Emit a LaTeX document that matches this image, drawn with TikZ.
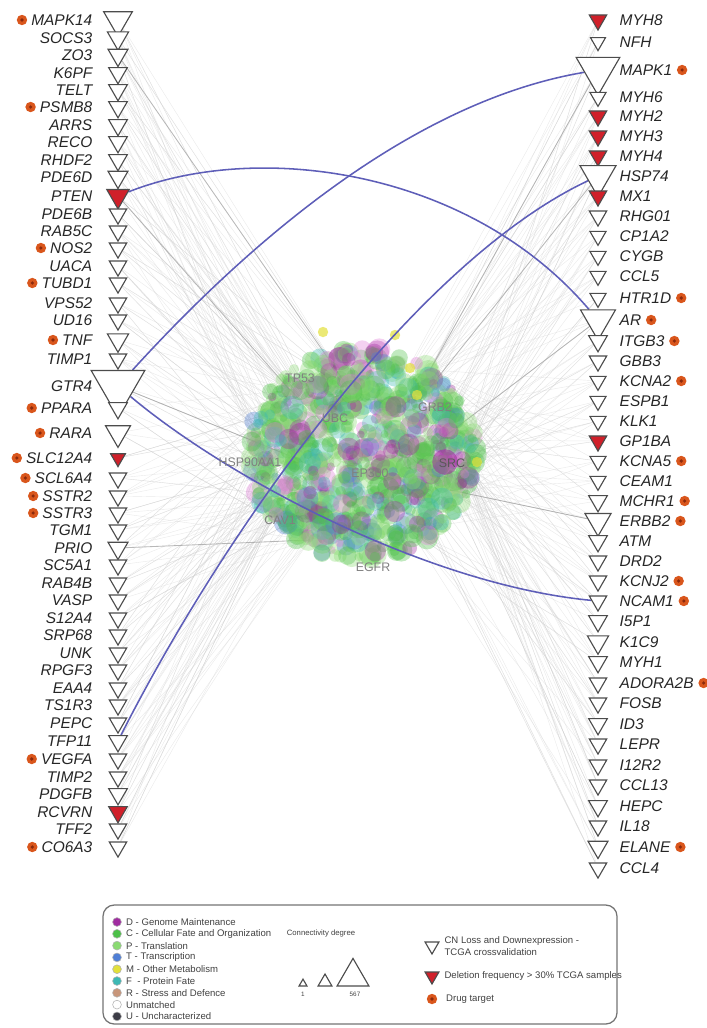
\documentclass[tikz,border=0pt]{standalone}
\usepackage{fontspec}
\setmainfont{Liberation Sans}
\usetikzlibrary{shapes.geometric,positioning,backgrounds}

\definecolor{delred}{HTML}{D0202A}
\definecolor{drugorg}{HTML}{D9561C}
\definecolor{drugdark}{HTML}{8C2A0C}
\definecolor{linkblue}{HTML}{5E5EB8}
\definecolor{cgreen}{HTML}{4CC048}
\definecolor{clgreen}{HTML}{8ADA72}
\definecolor{cpurple}{HTML}{A02CA0}
\definecolor{cpink}{HTML}{E07AD8}
\definecolor{cblue}{HTML}{4F7FD6}
\definecolor{cteal}{HTML}{3DB8B4}
\definecolor{cyellow}{HTML}{E2E03A}
\definecolor{cbrown}{HTML}{C8967A}
\definecolor{cdark}{HTML}{3C3C46}

\pgfmathdeclarerandomlist{cloudcol}{{cgreen}{cgreen}{cgreen}{cgreen}{cgreen}{cgreen}{clgreen}{clgreen}{clgreen}{clgreen}{clgreen}{cpurple}{cpurple}{cpink}{cpink}{cblue}{cteal}{cteal}}
\pgfmathdeclarerandomlist{lhub}{{a1}{a2}{a3}{a4}{a5}{a6}{a7}{a8}}
\pgfmathdeclarerandomlist{rhub}{{b1}{b2}{b3}{b4}{b5}{b6}{b7}{b8}}

% y, name, width, fill, drug target
\newcommand\lgene[5]{%
  \pgfmathsetmacro{\trisz}{#3*0.036}%
  \node[tri,fill=#4,minimum size=\trisz cm] (l#2) at (118,#1) {};%
  \node[gl,anchor=east] (lt#2) at (94,#1) {#2};%
  \ifnum#5=1 \node[drug,left=1.5pt of lt#2] (ld#2) {};\fi}
\newcommand\rgene[5]{%
  \pgfmathsetmacro{\trisz}{#3*0.036}%
  \node[tri,fill=#4,minimum size=\trisz cm] (r#2) at (598,#1) {};%
  \node[gl,anchor=west] (rt#2) at (618,#1) {#2};%
  \ifnum#5=1 \node[drug,right=2pt of rt#2] (rd#2) {};\fi}

\begin{document}
\begin{tikzpicture}[x=0.025cm,y=-0.025cm,
  tri/.style={regular polygon,regular polygon sides=3,shape border rotate=180,draw=black!70,line width=0.8pt,inner sep=0pt},
  gl/.style={font=\fontsize{11}{13}\selectfont\itshape,text=black!85,inner sep=1pt},
  drug/.style={circle,fill=drugorg,inner sep=0pt,minimum size=0.26cm,path picture={\fill[drugdark] (path picture bounding box.center) circle (0.045cm);}},
  hub/.style={font=\fontsize{8.8}{10}\selectfont,text=black!50},
  lnk/.style={draw=black!18,line width=0.3pt,opacity=0.45},
  lnkd/.style={draw=black!35,line width=0.6pt,opacity=0.8},
  bluelink/.style={draw=linkblue,line width=1.1pt},
  legdot/.style={circle,draw=black!30,inner sep=0pt,minimum size=0.22cm},
  leg/.style={font=\fontsize{6.8}{8}\selectfont,text=black!75,anchor=west,inner sep=0pt}]
\useasboundingbox (0,0) rectangle (706,1028);
\pgfmathsetseed{11}
\coordinate (a1) at (290,390); \coordinate (a2) at (320,420); \coordinate (a3) at (300,460); \coordinate (a4) at (340,450);
\coordinate (a5) at (280,500); \coordinate (a6) at (330,500); \coordinate (a7) at (350,390); \coordinate (a8) at (310,540);
\coordinate (b1) at (420,400); \coordinate (b2) at (440,440); \coordinate (b3) at (400,470); \coordinate (b4) at (450,490);
\coordinate (b5) at (380,420); \coordinate (b6) at (410,530); \coordinate (b7) at (430,370); \coordinate (b8) at (460,460);
\lgene{20}{MAPK14}{23}{white}{1}
\lgene{38}{SOCS3}{17}{white}{0}
\lgene{55}{ZO3}{16}{white}{0}
\lgene{73}{K6PF}{15}{white}{0}
\lgene{90}{TELT}{15}{white}{0}
\lgene{107}{PSMB8}{15}{white}{1}
\lgene{125}{ARRS}{15}{white}{0}
\lgene{142}{RECO}{15}{white}{0}
\lgene{160}{RHDF2}{15}{white}{0}
\lgene{177}{PDE6D}{16}{white}{0}
\lgene{196}{PTEN}{18}{delred}{0}
\lgene{214}{PDE6B}{14}{white}{0}
\lgene{231}{RAB5C}{14}{white}{0}
\lgene{248}{NOS2}{14}{white}{1}
\lgene{266}{UACA}{14}{white}{0}
\lgene{283}{TUBD1}{14}{white}{1}
\lgene{303}{VPS52}{14}{white}{0}
\lgene{320}{UD16}{14}{white}{0}
\lgene{340}{TNF}{17}{white}{1}
\lgene{359}{TIMP1}{14}{white}{0}
\lgene{386}{GTR4}{43}{white}{0}
\lgene{408}{PPARA}{15}{white}{1}
\lgene{433}{RARA}{20}{white}{1}
\lgene{458}{SLC12A4}{12}{delred}{1}
\lgene{478}{SCL6A4}{14}{white}{1}
\lgene{496}{SSTR2}{14}{white}{1}
\lgene{513}{SSTR3}{14}{white}{1}
\lgene{530}{TGM1}{14}{white}{0}
\lgene{548}{PRIO}{16}{white}{0}
\lgene{565}{SC5A1}{14}{white}{0}
\lgene{583}{RAB4B}{14}{white}{0}
\lgene{600}{VASP}{14}{white}{0}
\lgene{618}{S12A4}{14}{white}{0}
\lgene{635}{SRP68}{14}{white}{0}
\lgene{653}{UNK}{14}{white}{0}
\lgene{670}{RPGF3}{14}{white}{0}
\lgene{688}{EAA4}{14}{white}{0}
\lgene{705}{TS1R3}{14}{white}{0}
\lgene{723}{PEPC}{14}{white}{0}
\lgene{741}{TFP11}{15}{white}{0}
\lgene{759}{VEGFA}{14}{white}{1}
\lgene{777}{TIMP2}{14}{white}{0}
\lgene{794}{PDGFB}{15}{white}{0}
\lgene{812}{RCVRN}{15}{delred}{0}
\lgene{829}{TFF2}{14}{white}{0}
\lgene{847}{CO6A3}{14}{white}{1}
\rgene{20}{MYH8}{14}{delred}{0}
\rgene{42}{NFH}{12}{white}{0}
\rgene{70}{MAPK1}{35}{white}{1}
\rgene{97}{MYH6}{13}{white}{0}
\rgene{116}{MYH2}{14}{delred}{0}
\rgene{136}{MYH3}{14}{delred}{0}
\rgene{156}{MYH4}{14}{delred}{0}
\rgene{176}{HSP74}{29}{white}{0}
\rgene{196}{MX1}{14}{delred}{0}
\rgene{216}{RHG01}{14}{white}{0}
\rgene{236}{CP1A2}{13}{white}{0}
\rgene{256}{CYGB}{13}{white}{0}
\rgene{276}{CCL5}{13}{white}{0}
\rgene{298}{HTR1D}{13}{white}{1}
\rgene{320}{AR}{28}{white}{1}
\rgene{341}{ITGB3}{15}{white}{1}
\rgene{361}{GBB3}{14}{white}{0}
\rgene{381}{KCNA2}{13}{white}{1}
\rgene{401}{ESPB1}{13}{white}{0}
\rgene{421}{KLK1}{13}{white}{0}
\rgene{441}{GP1BA}{14}{delred}{0}
\rgene{461}{KCNA5}{13}{white}{1}
\rgene{481}{CEAM1}{13}{white}{0}
\rgene{501}{MCHR1}{15}{white}{1}
\rgene{521}{ERBB2}{21}{white}{1}
\rgene{541}{ATM}{15}{white}{0}
\rgene{561}{DRD2}{14}{white}{0}
\rgene{581}{KCNJ2}{14}{white}{1}
\rgene{601}{NCAM1}{14}{white}{1}
\rgene{621}{I5P1}{15}{white}{0}
\rgene{642}{K1C9}{17}{white}{0}
\rgene{662}{MYH1}{15}{white}{0}
\rgene{683}{ADORA2B}{14}{white}{1}
\rgene{703}{FOSB}{14}{white}{0}
\rgene{724}{ID3}{15}{white}{0}
\rgene{744}{LEPR}{14}{white}{0}
\rgene{765}{I12R2}{14}{white}{0}
\rgene{785}{CCL13}{14}{white}{0}
\rgene{806}{HEPC}{15}{white}{0}
\rgene{826}{IL18}{14}{white}{0}
\rgene{847}{ELANE}{16}{white}{1}
\rgene{868}{CCL4}{14}{white}{0}
\begin{pgfonlayer}{background}
\foreach \g in {MAPK14,SOCS3,ZO3,K6PF,TELT,PSMB8,ARRS,RECO,RHDF2,PDE6D,PTEN,PDE6B,RAB5C,NOS2,UACA,TUBD1,VPS52,UD16,TNF,TIMP1,GTR4,PPARA,RARA,
  SLC12A4,SCL6A4,SSTR2,SSTR3,TGM1,PRIO,SC5A1,RAB4B,VASP,S12A4,SRP68,UNK,RPGF3,EAA4,TS1R3,PEPC,TFP11,VEGFA,TIMP2,PDGFB,RCVRN,TFF2,CO6A3}
  {\foreach \k in {1,...,5}{\pgfmathrandomitem{\h}{lhub}\draw[lnk] (l\g) -- (\h);}}
\foreach \g in {MYH8,NFH,MAPK1,MYH6,MYH2,MYH3,MYH4,HSP74,MX1,RHG01,CP1A2,CYGB,CCL5,HTR1D,AR,ITGB3,GBB3,KCNA2,ESPB1,KLK1,GP1BA,KCNA5,CEAM1,
  MCHR1,ERBB2,ATM,DRD2,KCNJ2,NCAM1,I5P1,K1C9,MYH1,ADORA2B,FOSB,ID3,LEPR,I12R2,CCL13,HEPC,IL18,ELANE,CCL4}
  {\foreach \k in {1,...,5}{\pgfmathrandomitem{\h}{rhub}\draw[lnk] (r\g) -- (\h);}}
\draw[lnkd] (lZO3) -- (a7);
\draw[lnkd] (lPTEN) -- (a1);
\draw[lnkd] (lGTR4) -- (a3);
\draw[lnkd] (lPRIO) -- (a8);
\draw[lnkd] (rMAPK1) -- (b7);
\draw[lnkd] (rHSP74) -- (b1);
\draw[lnkd] (rAR) -- (b2);
\draw[lnkd] (rERBB2) -- (b4);
\foreach \k in {1,...,900}{
  \pgfmathsetmacro{\ang}{360*rnd}
  \pgfmathsetmacro{\rad}{sqrt(rnd)}
  \pgfmathsetmacro{\cx}{362+114*\rad*cos(\ang)}
  \pgfmathsetmacro{\cy}{454+106*\rad*sin(\ang)}
  \pgfmathsetmacro{\cr}{(4+8*rnd)*0.025}
  \pgfmathrandomitem{\cc}{cloudcol}
  \fill[\cc,fill opacity=0.35] (\cx,\cy) circle (\cr cm);
}
\fill[cpurple,fill opacity=0.55] (445,462) circle (0.32cm);
\foreach \p in {(323,332),(395,335),(410,368),(417,395),(477,462)}{\fill[cyellow,fill opacity=0.7] \p circle (0.13cm);}
\draw[bluelink] (lPTEN) .. controls (260,140) and (470,170) .. (rAR);
\draw[bluelink] (lGTR4) .. controls (260,230) and (420,100) .. (rMAPK1);
\draw[bluelink] (lGTR4) .. controls (230,480) and (430,585) .. (rNCAM1);
\draw[bluelink] (lTFP11) .. controls (230,520) and (420,260) .. (rHSP74);
\end{pgfonlayer}
\node[hub] (TP53) at (300,378) {TP53};
\node[hub] (UBC) at (335,418) {UBC};
\node[hub] (GRB2) at (435,407) {GRB2};
\node[hub,text=black!65] (SRC) at (452,463) {SRC};
\node[hub] (EP300) at (370,473) {EP300};
\node[hub] (HSP90AA1) at (250,462) {HSP90AA1};
\node[hub] (CAV1) at (280,520) {CAV1};
\node[hub] (EGFR) at (373,567) {EGFR};
\draw[draw=black!55,line width=0.9pt,rounded corners=8pt] (103,905) rectangle (617,1024);
\foreach \c/\t [count=\n] in {cpurple/D - Genome Maintenance,cgreen/C - Cellular Fate and Organization,clgreen/P - Translation,
  cblue/T - Transcription,cyellow/M - Other Metabolism,cteal/F \ - Protein Fate,cbrown/R - Stress and Defence,white/Unmatched,cdark/U - Uncharacterized}{
  \node[legdot,fill=\c] (lg\n) at (117,{910.2+11.8*\n}) {};
  \node[leg,right=3pt of lg\n] {\t};
}
\node[font=\fontsize{5.5}{6}\selectfont,text=black!75] (cdeg) at (321,933) {Connectivity degree};
\node[tri,shape border rotate=0,fill=white,minimum size=0.23cm] (deg1) at (303,983.7) {};
\node[tri,shape border rotate=0,fill=white,minimum size=0.4cm] (deg2) at (325,982) {};
\node[tri,shape border rotate=0,fill=white,minimum size=0.92cm] (deg3) at (353,976.8) {};
\node[font=\fontsize{4.5}{5}\selectfont,text=black!75] at (303,994) {1};
\node[font=\fontsize{4.5}{5}\selectfont,text=black!75] at (355,994) {567};
\node[tri,fill=white,minimum size=0.4cm] (lgcn) at (432,946) {};
\node[leg,align=left,right=5pt of lgcn] {CN Loss and Downexpression -\\TCGA crossvalidation};
\node[tri,fill=delred,minimum size=0.4cm] (lgdel) at (432,976) {};
\node[leg,right=5pt of lgdel] {Deletion frequency > 30\% TCGA samples};
\node[drug] (lgdrug) at (432,999) {};
\node[leg,right=6pt of lgdrug] {Drug target};
\end{tikzpicture}
\end{document}
